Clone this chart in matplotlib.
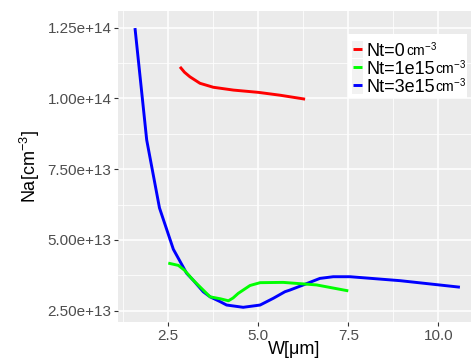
import matplotlib
matplotlib.use("Agg")
import matplotlib.pyplot as plt
from matplotlib.lines import Line2D
from matplotlib.patches import Rectangle
from matplotlib.ticker import FixedLocator, FuncFormatter

plt.rcParams['font.family'] = ['Liberation Sans', 'DejaVu Sans']
plt.rcParams['mathtext.fontset'] = 'custom'
plt.rcParams['mathtext.rm'] = 'Liberation Sans'
plt.rcParams['mathtext.it'] = 'Liberation Sans:italic'
plt.rcParams['mathtext.bf'] = 'Liberation Sans:bold'

# ---- data (values in units of 1e13 cm^-3) ----
w_red = [2.825, 2.95, 3.10, 3.38, 3.75, 4.31, 5.00, 5.60, 6.30]
na_red = [11.11, 10.92, 10.76, 10.53, 10.39, 10.29, 10.21, 10.11, 9.97]

w_green = [2.50, 2.78, 2.95, 3.19, 3.66, 3.95, 4.17, 4.30, 4.44, 4.77, 5.05, 5.69, 6.62, 7.50]
na_green = [4.18, 4.10, 3.93, 3.58, 2.99, 2.92, 2.85, 2.95, 3.11, 3.39, 3.49, 3.50, 3.41, 3.20]

w_blue = [1.575, 1.90, 2.255, 2.64, 3.01, 3.19, 3.47, 3.66, 3.94, 4.12, 4.58, 5.05, 5.42,
          5.74, 5.88, 6.25, 6.71, 7.08, 7.55, 8.94, 10.60]
na_blue = [12.48, 8.53, 6.13, 4.67, 3.82, 3.58, 3.17, 2.99, 2.82, 2.70, 2.62, 2.70, 2.94,
           3.17, 3.23, 3.41, 3.64, 3.70, 3.70, 3.56, 3.33]

labels = ["Nt=0", "Nt=1e15", "Nt=3e15"]
colors = ["#FF0000", "#00FF00", "#0000FF"]

x_major = [2.5, 5.0, 7.5, 10.0]
x_minor = [1.25, 3.75, 6.25, 8.75]
y_major = [2.5e13, 5.0e13, 7.5e13, 1.0e14, 1.25e14]
y_minor = [3.75e13, 6.25e13, 8.75e13, 1.125e14]

W, H = 471, 360
fig = plt.figure(figsize=(W / 100, H / 100), dpi=100)
L, R, T, B = 118, 471, 11, 322
ax = fig.add_axes([L / W, 1 - B / H, (R - L) / W, (B - T) / H])
ax.set_facecolor("#EBEBEB")
for s in ax.spines.values():
    s.set_visible(False)

series = [(w_red, na_red), (w_green, na_green), (w_blue, na_blue)]
order = [2, 1, 0]
for i in order:
    xs, ys = series[i]
    ax.plot(xs, [v * 1e13 for v in ys], color=colors[i], lw=2.1,
            solid_capstyle='butt', solid_joinstyle='round', zorder=3 + (2 - i))

ax.set_xlim(1.103, 10.908)
ax.set_ylim(2.101e13, 1.3083e14)

ax.xaxis.set_major_locator(FixedLocator(x_major))
ax.xaxis.set_minor_locator(FixedLocator(x_minor))
ax.yaxis.set_major_locator(FixedLocator(y_major))
ax.yaxis.set_minor_locator(FixedLocator(y_minor))
ax.xaxis.set_major_formatter(FuncFormatter(lambda v, p: "%.1f" % v))
ax.yaxis.set_major_formatter(FuncFormatter(lambda v, p: "%.2e" % v))

ax.grid(which='major', color='white', lw=1.1, zorder=1)
ax.grid(which='minor', color='white', lw=0.55, zorder=1)
ax.set_axisbelow(True)
ax.tick_params(which='major', length=2.75, width=0.8, color='#333333',
               labelcolor='#4D4D4D', labelsize=11, pad=2)
ax.tick_params(which='minor', length=0)

ax.set_xlabel("W[μm]", fontsize=13, color='black', labelpad=-1)
ax.set_ylabel(r"Na[cm$^{-3}$]", fontsize=13, color='black', labelpad=4)

# ---- legend drawn in pixel coordinates ----
def fx(x):
    return x / W

def fy(y):
    return 1 - y / H

tf = fig.transFigure
box = Rectangle((fx(348), fy(98)), (467 - 348) / W, (98 - 34) / H, transform=tf,
                facecolor='white', edgecolor='none', zorder=10)
fig.add_artist(box)
rows = [49, 67, 85]
baselines = [56, 74.3, 92.3]
main_texts = []
for lab, col, yc, yb in zip(labels, colors, rows, baselines):
    fig.add_artist(Rectangle((fx(352), fy(yc + 8.5)), 11 / W, 17 / H, transform=tf,
                             facecolor='#F2F2F2', edgecolor='none', zorder=11))
    fig.add_artist(Line2D([fx(353), fx(362)], [fy(yc), fy(yc)], transform=tf,
                          color=col, lw=2.1, solid_capstyle='butt', zorder=12))
    t = fig.text(fx(366.5), fy(yb), lab, fontsize=13, va='baseline', ha='left',
                 color='black', zorder=12)
    main_texts.append((t, yb))

fig.canvas.draw()
r = fig.canvas.get_renderer()
for t, yb in main_texts:
    bb = t.get_window_extent(renderer=r)
    fig.text(bb.x1 / W + 0.3 / W, fy(yb), r"cm$^{-3}$", fontsize=10, va='baseline',
             ha='left', color='black', zorder=12)

fig.savefig("out.png", dpi=100, facecolor='white')
